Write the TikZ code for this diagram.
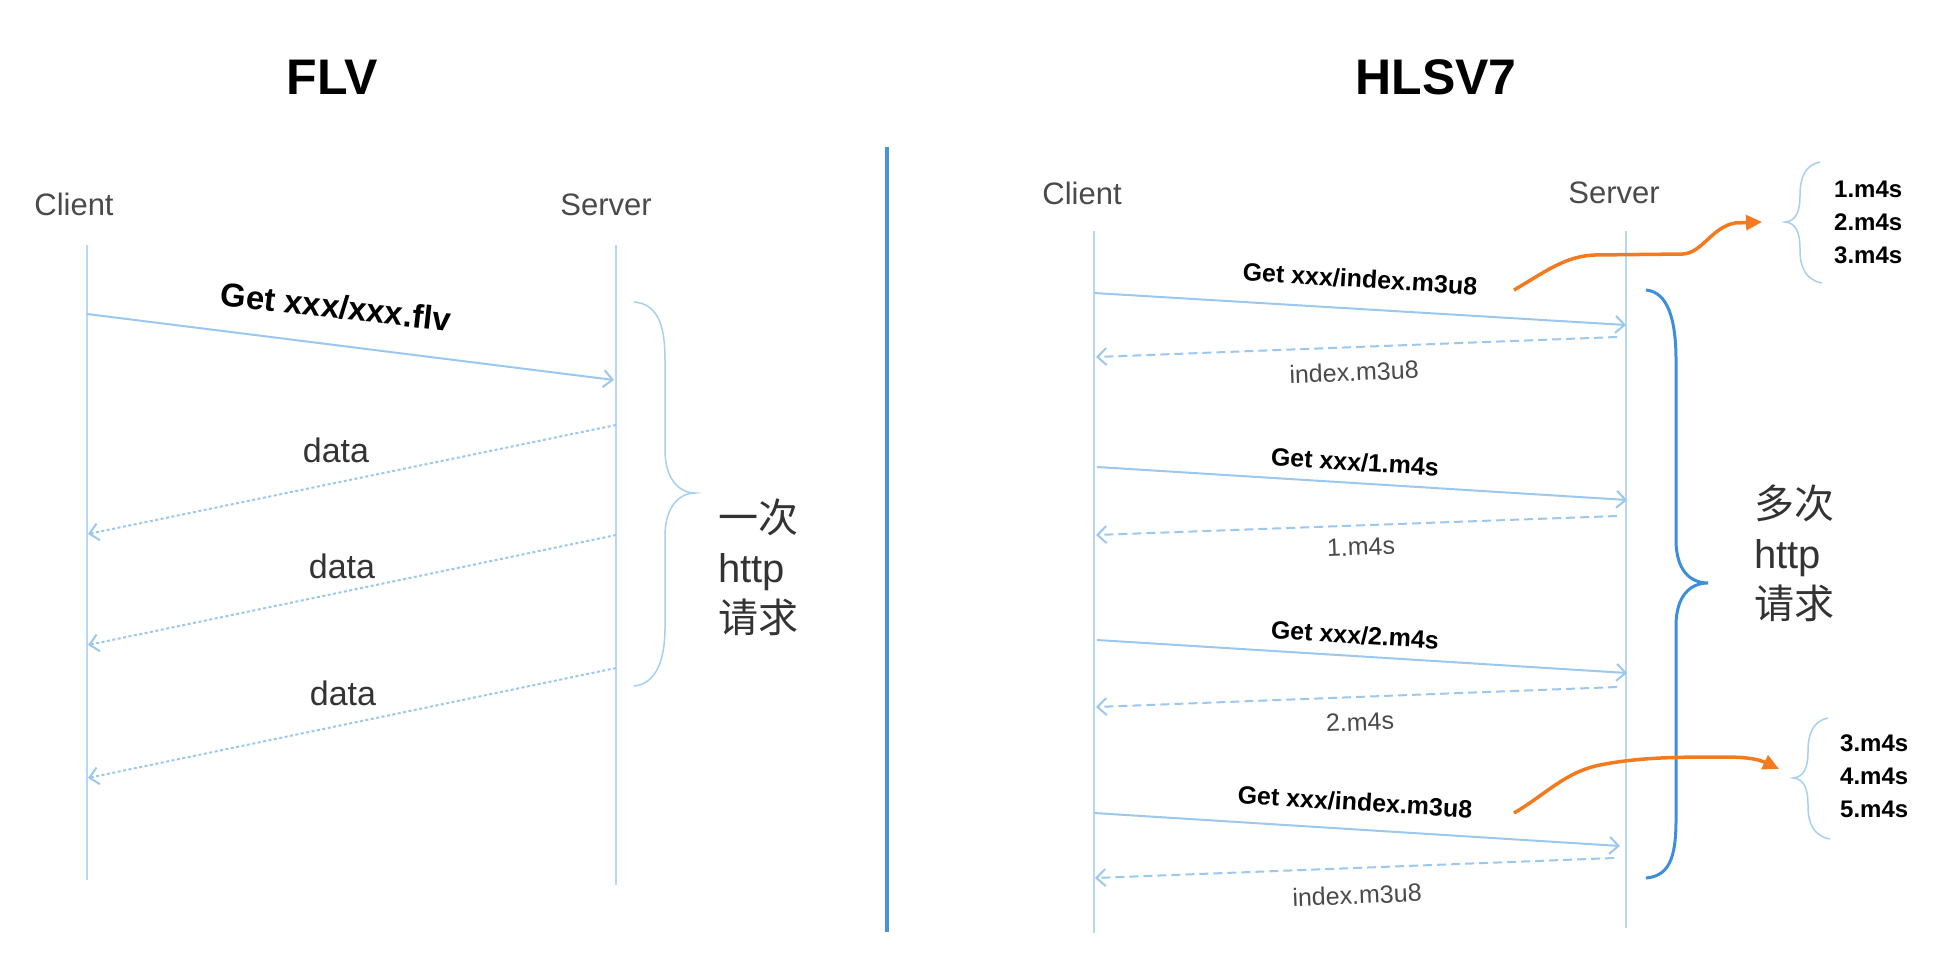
\documentclass[tikz,border=0pt]{standalone}
\usepackage{fontspec}
\setmainfont{Liberation Sans}
\newfontfamily\cjk{Noto Sans CJK SC}
\usetikzlibrary{arrows.meta}
\definecolor{lifec}{HTML}{B8D7F4}
\definecolor{arrc}{HTML}{9CC8F0}
\definecolor{divc}{HTML}{4A93DB}
\definecolor{bigbrace}{HTML}{3D8FDC}
\definecolor{smallbrace}{HTML}{A8CFF0}
\definecolor{orangec}{HTML}{F47A20}
\definecolor{txtc}{HTML}{333333}
\definecolor{grayc}{HTML}{4A4A4A}
\tikzset{
  life/.style={draw=lifec, line width=1.5pt},
  req/.style={draw=arrc, line width=2pt, -{Straight Barb[length=9pt,width=17pt]}},
  dotret/.style={req, dash pattern=on 3pt off 2.5pt},
  dashret/.style={req, dash pattern=on 9pt off 5pt},
  lbl/.style={inner sep=0pt, text=txtc},
  actor/.style={lbl, text=grayc, font=\fontsize{31}{36}\selectfont},
  title/.style={lbl, text=black, font=\bfseries\fontsize{50}{60}\selectfont},
  datalbl/.style={lbl, font=\fontsize{34}{40}\selectfont},
  getlbl/.style={lbl, text=black, font=\bfseries\fontsize{25}{30}\selectfont},
  retlbl/.style={lbl, text=grayc, font=\fontsize{25}{30}\selectfont},
  seglbl/.style={lbl, text=black, font=\bfseries\fontsize{24}{33}\selectfont, align=left, anchor=west},
  bigtxt/.style={lbl, font=\fontsize{40}{50}\selectfont, align=left, anchor=west},
  thinbrace/.style={draw=smallbrace, line width=1.5pt},
  thickbrace/.style={draw=bigbrace, line width=3pt},
  orangearr/.style={draw=orangec, line width=3.5pt, -{Triangle[length=16pt,width=15pt]}}
}
\begin{document}
\begin{tikzpicture}[x=1pt,y=-1pt]
\useasboundingbox (0,0) rectangle (1948,964);
\fill[white] (0,0) rectangle (1948,964);

% titles
\node[title] (t1) at (332,77) {FLV};
\node[title] (t2) at (1436,77) {HLSV7};

% divider
\coordinate (dv1) at (887,147);
\coordinate (dv2) at (887,932);
\draw[draw=divc, line width=3.5pt] (dv1) -- (dv2);

%%%%%%%%%%%%%% LEFT PANEL
\node[actor] (lcl) at (74,204) {Client};
\node[actor] (lsv) at (606,205) {Server};
\coordinate (lc1) at (87,245);  \coordinate (lc2) at (87,880);
\coordinate (ls1) at (616,245); \coordinate (ls2) at (616,885);
\draw[life] (lc1) -- (lc2);
\draw[life] (ls1) -- (ls2);

\coordinate (la1) at (87,314);  \coordinate (lb1) at (614,380);
\draw[req] (la1) -- (lb1);
\node[lbl, text=black, font=\bfseries\fontsize{33}{38}\selectfont, rotate=-6.3] (lg) at (336,307) {Get xxx/xxx.flv};

\coordinate (ld1s) at (616,425); \coordinate (ld1e) at (88,534);
\coordinate (ld2s) at (616,535); \coordinate (ld2e) at (88,645);
\coordinate (ld3s) at (616,668); \coordinate (ld3e) at (88,778);
\draw[dotret] (ld1s) -- (ld1e);
\draw[dotret] (ld2s) -- (ld2e);
\draw[dotret] (ld3s) -- (ld3e);
\node[datalbl] (dl1) at (336,450) {data};
\node[datalbl] (dl2) at (342,566) {data};
\node[datalbl] (dl3) at (343,693) {data};

\draw[thinbrace] (634,302) .. controls (660,304) and (665,330) .. (665,360)
  -- (665,450) .. controls (665,480) and (680,493) .. (695,493)
  .. controls (680,493) and (665,506) .. (665,536)
  -- (665,628) .. controls (665,660) and (656,684) .. (634,686);
\node[bigtxt] (lt) at (718,567) {{\cjk 一次}\\http\\{\cjk 请求}};

%%%%%%%%%%%%%% RIGHT PANEL
\node[actor] (rcl) at (1082,193) {Client};
\node[actor] (rsv) at (1614,193) {Server};
\coordinate (rc1) at (1094,231);  \coordinate (rc2) at (1094,933);
\coordinate (rs1) at (1626,231);  \coordinate (rs2) at (1626,928);
\draw[life] (rc1) -- (rc2);
\draw[life] (rs1) -- (rs2);

% requests
\coordinate (q1s) at (1094,293); \coordinate (q1e) at (1626,325);
\coordinate (r1s) at (1617,337); \coordinate (r1e) at (1096,357);
\coordinate (q2s) at (1097,467); \coordinate (q2e) at (1627,500);
\coordinate (r2s) at (1617,516); \coordinate (r2e) at (1096,535);
\coordinate (q3s) at (1097,640); \coordinate (q3e) at (1627,673);
\coordinate (r3s) at (1617,687); \coordinate (r3e) at (1096,707);
\coordinate (q4s) at (1094,813); \coordinate (q4e) at (1620,846);
\coordinate (r4s) at (1614,858); \coordinate (r4e) at (1095,878);
\draw[req] (q1s) -- (q1e);
\draw[dashret] (r1s) -- (r1e);
\draw[req] (q2s) -- (q2e);
\draw[dashret] (r2s) -- (r2e);
\draw[req] (q3s) -- (q3e);
\draw[dashret] (r3s) -- (r3e);
\draw[req] (q4s) -- (q4e);
\draw[dashret] (r4s) -- (r4e);

\node[getlbl, rotate=-3.5] (g1) at (1360,279) {Get xxx/index.m3u8};
\node[retlbl, rotate=2.2] (f1) at (1354,372) {index.m3u8};
\node[getlbl, rotate=-3.5] (g2) at (1355,462) {Get xxx/1.m4s};
\node[retlbl, rotate=2.2] (f2) at (1361,547) {1.m4s};
\node[getlbl, rotate=-3.5] (g3) at (1355,635) {Get xxx/2.m4s};
\node[retlbl, rotate=2.2] (f3) at (1360,722) {2.m4s};
\node[getlbl, rotate=-3.5] (g4) at (1355,802) {Get xxx/index.m3u8};
\node[retlbl, rotate=2.2] (f4) at (1357,895) {index.m3u8};

% big brace
\draw[thickbrace] (1646,290) .. controls (1668,292) and (1676,320) .. (1676,360)
  -- (1676,540) .. controls (1676,570) and (1690,583) .. (1708,583)
  .. controls (1690,583) and (1676,596) .. (1676,626)
  -- (1676,820) .. controls (1676,860) and (1668,876) .. (1646,878);
\node[bigtxt] (rt) at (1754,553) {{\cjk 多次}\\http\\{\cjk 请求}};

% playlist 1
\draw[thinbrace] (1820,162) .. controls (1805,165) and (1800,178) .. (1800,195)
  .. controls (1800,212) and (1796,221) .. (1785,222)
  .. controls (1796,223) and (1800,232) .. (1800,250)
  .. controls (1800,268) and (1806,280) .. (1822,283);
\node[seglbl] (pl1) at (1834,222) {1.m4s\\2.m4s\\3.m4s};

% playlist 2
\draw[thinbrace] (1828,718) .. controls (1813,721) and (1808,734) .. (1808,751)
  .. controls (1808,768) and (1804,777) .. (1793,778)
  .. controls (1804,779) and (1808,788) .. (1808,806)
  .. controls (1808,824) and (1814,836) .. (1830,839);
\node[seglbl] (pl2) at (1840,776) {3.m4s\\4.m4s\\5.m4s};

% orange arrows
\coordinate (o1s) at (1514,290);
\coordinate (o1e) at (1762,222);
\draw[orangearr] (o1s) .. controls (1545,272) and (1565,256) .. (1595,255)
  -- (1683,254) .. controls (1702,253) and (1712,227) .. (1735,223) -- (o1e);
\coordinate (o2s) at (1514,813);
\coordinate (o2e) at (1779,769);
\draw[orangearr] (o2s) .. controls (1545,795) and (1565,772) .. (1600,765)
  .. controls (1640,757) and (1680,757) .. (1725,757)
  .. controls (1750,757) and (1760,760) .. (o2e);
\end{tikzpicture}
\end{document}
